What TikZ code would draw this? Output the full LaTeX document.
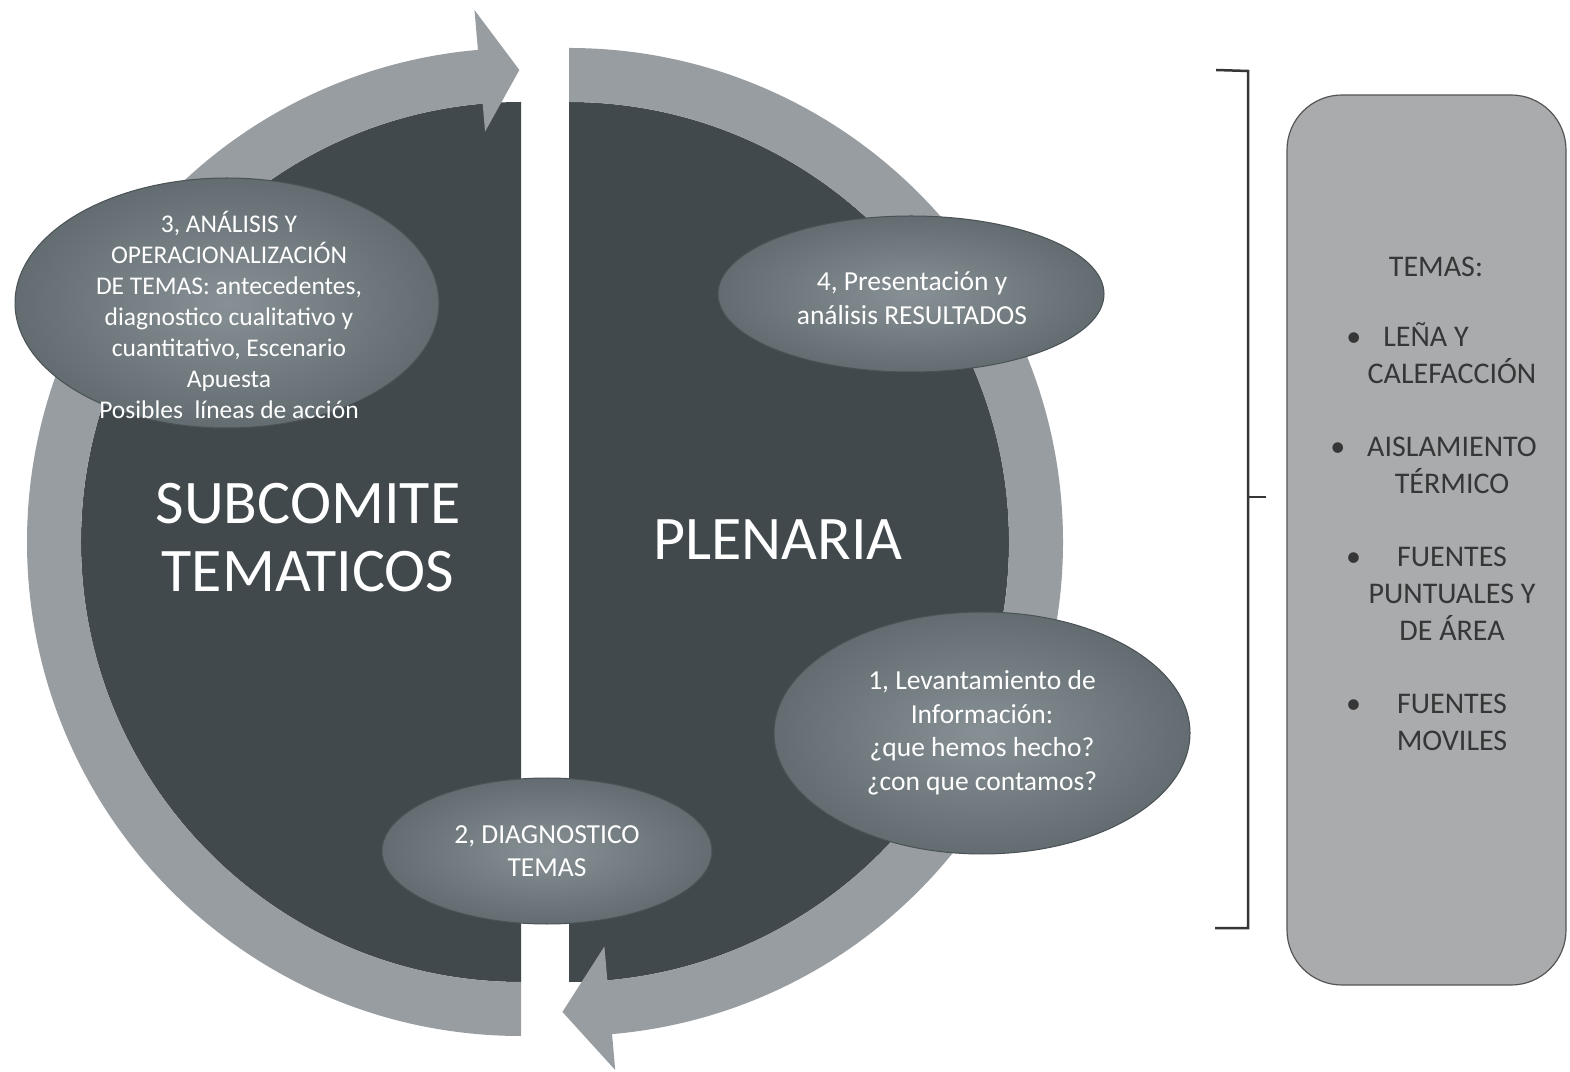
\documentclass[tikz,border=0pt]{standalone}
\usepackage{fontspec}
\setmainfont{Carlito}
\usepackage{xcolor}
\definecolor{discDark}{HTML}{41494D}
\definecolor{ringGray}{HTML}{989DA1}
\definecolor{bubIn}{HTML}{879094}
\definecolor{bubOut}{HTML}{636C70}
\definecolor{bubEdge}{HTML}{4A5256}
\definecolor{panelFill}{HTML}{A9ABAD}
\definecolor{panelEdge}{HTML}{555555}
\definecolor{panelText}{HTML}{363636}
\usetikzlibrary{shapes.geometric}

\begin{document}
\begin{tikzpicture}[
    x=1pt, y=1pt,
    bubble/.style={
        ellipse, draw=bubEdge, line width=1pt,
        inner color=bubIn, outer color=bubOut, inner sep=0pt
    },
    bubtext/.style={text=white, align=center, font=\fontsize{27.5}{33.5}\selectfont},
    title/.style={text=white, align=center, font=\fontsize{62}{68}\selectfont},
    ring/.style={fill=ringGray},
    disc/.style={fill=discDark}
]
\useasboundingbox (0,0) rectangle (1570,1071);
\fill[white] (0,0) rectangle (1570,1071);

%% ---- Half discs ----
\fill[disc] (521,969) arc[start angle=90, end angle=270, radius=440] -- cycle;
\fill[disc] (569,89) arc[start angle=-90, end angle=90, radius=440] -- cycle;

%% ---- Circular arrows ----
\begin{scope}[shift={(521,529)}]
  \fill[ring] (270:494) arc[start angle=270, end angle=95, radius=494]
      -- (95:534) -- (90.2:472) -- (95:412) -- (95:440)
      arc[start angle=95, end angle=270, radius=440] -- cycle;
\end{scope}
\begin{scope}[shift={(569,529)}]
  \fill[ring] (90:494) arc[start angle=90, end angle=-85, radius=494]
      -- (-85:530) -- (-90.8:470) -- (-85:406) -- (-85:440)
      arc[start angle=-85, end angle=90, radius=440] -- cycle;
\end{scope}

%% ---- Titles ----
\node[title] (sub)  at (308,533) {SUBCOMITE\\TEMATICOS};
\node[title] (plen) at (778,531) {PLENARIA};

%% ---- Step bubbles ----
\node[bubble, minimum width=424pt, minimum height=250pt] (e3) at (227,768) {};
\node[bubtext, font=\fontsize{25.5}{31}\selectfont] (t3) at (229,756)
    {3, ANÁLISIS Y\\OPERACIONALIZACIÓN\\DE TEMAS: antecedentes,\\diagnostico cualitativo y\\cuantitativo, Escenario\\Apuesta\\Posibles\ \ líneas de acción};
\node[bubble, minimum width=386pt, minimum height=156pt] (e4) at (911,777) {};
\node[bubtext] (t4) at (912,773) {4, Presentación y\\análisis RESULTADOS};
\node[bubble, minimum width=416pt, minimum height=242pt] (e1) at (982,338) {};
\node[bubtext] (t1) at (982,338) {1, Levantamiento de\\Información:\\¿que hemos hecho?\\¿con que contamos?};
\node[bubble, minimum width=330pt, minimum height=146pt] (e2) at (547,220) {};
\node[bubtext] (t2) at (547,220) {2, DIAGNOSTICO\\TEMAS};

%% ---- Bracket ----
\draw[line width=2.5pt, panelText] (1216,1001) -- (1248,1000) -- (1248,143) -- (1215,143);
\draw[line width=2.5pt, panelText] (1248,574) -- (1266,574);

%% ---- Topics panel ----
\node[draw=panelEdge, fill=panelFill, line width=1.2pt, rounded corners=55pt,
      minimum width=279pt, minimum height=890pt] (panel) at (1426.5,531) {};
\node[text=panelText, align=center, font=\fontsize{30}{37}\selectfont] (temas) at (1452,567)
    {TEMAS:\kern32pt\\[33pt]
     \llap{•\hspace{22pt}}LEÑA Y\kern52pt\\CALEFACCIÓN\\[36pt]
     \llap{•\hspace{22pt}}AISLAMIENTO\\TÉRMICO\\[36pt]
     \llap{•\hspace{36pt}}FUENTES\\PUNTUALES Y\\DE ÁREA\\[36pt]
     \llap{•\hspace{36pt}}FUENTES\\MOVILES};

\end{tikzpicture}
\end{document}
